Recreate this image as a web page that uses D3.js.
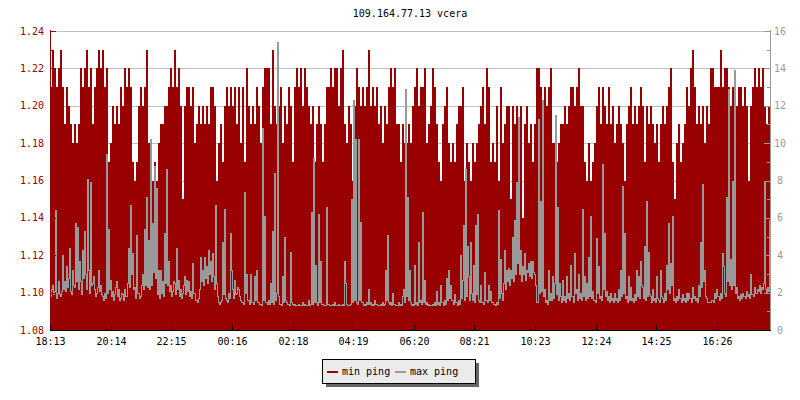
<!DOCTYPE html>
<html><head><meta charset="utf-8">
<script src="https://cdn.jsdelivr.net/npm/d3@7"></script>
<style>
html,body{margin:0;padding:0;background:#fff;}
svg{display:block;font-family:"DejaVu Sans Mono",monospace;font-size:10px;}
</style></head>
<body><svg id="c" width="800" height="400"></svg>
<script>
const title = "109.164.77.13 vcera";
const seriesNames = ["min ping", "max ping"];
const xTickLabels = ["18:13","20:14","22:15","00:16","02:18","04:19","06:20","08:21","10:23","12:24","14:25","16:26"];
const leftTicks = [1.08,1.10,1.12,1.14,1.16,1.18,1.20,1.22,1.24];
const rightTicks = [0,2,4,6,8,10,12,14,16];
const minStepMinutes = 4;
const maxStepMinutes = 2;

const minPing = [
1.21,1.23,1.22,1.21,1.22,1.23,1.21,1.19,1.21,1.20,
1.19,1.18,1.19,1.18,1.19,1.22,1.21,
1.22,1.23,1.21,1.22,1.19,1.21,1.22,1.23,1.22,1.23,1.21,1.22,
1.17,1.18,
1.20,1.19,1.20,1.19,1.21,1.20,1.22,1.21,1.22,1.21,
1.17,1.16,1.17,
1.20,1.21,1.20,1.21,1.23,
1.18,1.18,1.16,1.17,1.16,1.18,
1.19,1.19,1.20,
1.20,1.21,1.22,1.21,
1.23,
1.21,1.22,1.20,1.15,
1.20,1.21,1.21,1.20,1.21,1.18,
1.19,1.20,1.19,1.20,1.19,1.20,1.19,1.21,1.21,1.20,1.16,
1.18,1.19,1.17,1.20,1.21,1.20,
1.21,1.20,1.21,1.19,1.21,1.18,1.21,1.17,
1.22,1.20,1.19,1.20,1.19,1.21,1.20,1.18,
1.21,1.22,1.22,1.22,1.19,1.23,
1.20,1.19,1.20,1.21,1.18,1.20,1.19,1.21,1.20,1.17,
1.21,1.22,1.21,1.22,1.20,1.22,1.21,1.20,
1.19,1.20,1.17,1.19,1.20,1.19,1.17,1.19,
1.21,1.21,1.22,1.21,1.22,1.22,1.20,1.22,1.23,
1.19,1.18,1.20,1.19,1.16,
1.20,1.22,1.21,1.20,1.21,1.20,1.21,1.23,
1.20,1.21,1.20,1.21,1.19,1.20,1.18,1.20,1.19,1.21,1.22,1.21,1.22,
1.19,1.19,1.17,1.19,1.18,1.18,1.19,
1.18,1.20,1.21,
1.22,1.20,1.21,1.21,1.22,
1.18,1.19,
1.20,1.22,1.21,
1.19,1.17,1.16,
1.19,1.20,1.21,
1.18,1.17,1.18,1.17,
1.19,1.20,1.20,1.21,
1.16,1.18,1.17,1.16,1.18,1.17,1.18,
1.19,1.20,1.21,1.19,1.22,1.21,
1.17,1.18,1.17,1.20,1.16,1.21,1.18,1.19,1.20,1.20,
1.15,1.20,1.19,1.20,1.19,1.20,1.14,
1.19,1.20,1.18,1.19,1.17,
1.19,1.22,1.22,1.21,1.19,1.21,1.20,1.21,1.22,
1.18,1.18,1.17,
1.18,1.19,1.19,1.20,1.19,1.20,1.21,1.21,1.20,1.21,1.22,1.20,1.20,
1.17,1.16,1.18,
1.16,1.17,1.18,
1.20,1.21,1.19,1.21,1.20,1.19,1.21,
1.19,1.20,1.18,1.19,1.20,1.19,1.18,1.16,
1.19,1.20,1.21,1.19,1.20,1.19,1.20,1.21,1.20,
1.17,1.20,1.19,1.20,1.19,1.18,1.19,1.17,1.19,1.20,1.19,
1.20,1.21,1.22,
1.17,1.15,1.18,1.19,1.17,1.18,1.19,
1.21,1.20,1.22,1.23,1.21,
1.19,1.20,1.19,1.20,1.18,1.20,1.19,
1.22,1.22,1.21,1.21,1.21,1.23,1.21,1.22,1.22,1.21,
1.20,1.21,1.20,1.20,1.21,1.21,1.20,1.21,1.20,1.16,1.20,1.21,
1.22,1.21,1.22,1.21,1.22,
1.20,1.19,1.20
];

const maxPing = [
1.8,2.2,2.4,1.9,2.1,6.4,1.7,2.0,2.6,1.9,1.8,2.1,4.0,2.2,2.6,2.1,3.4,2.3,2.8,4.4,
2.1,1.9,3.2,2.4,2.3,5.7,2.6,5.5,2.2,3.7,2.6,1.9,4.3,2.8,5.3,3.0,2.2,8.1,3.2,2.0,
7.9,2.4,2.5,2.9,2.2,1.8,2.0,2.3,3.2,2.1,2.4,1.9,1.8,1.6,2.0,1.7,9.4,2.0,5.4,2.2,
2.7,1.8,2.1,1.6,1.9,2.3,2.6,1.8,2.2,1.6,1.7,2.0,1.9,1.6,2.2,1.8,1.8,2.5,4.4,2.3,
6.7,3.0,4.1,2.2,2.3,1.7,5.1,2.0,2.0,1.7,1.8,2.4,3.0,2.2,5.4,2.4,7.1,2.3,4.8,2.2,
10.2,2.4,5.7,3.1,8.8,2.8,7.6,1.9,3.2,1.7,3.2,2.0,2.6,1.8,5.2,2.5,8.6,2.4,3.7,2.1,
2.4,1.8,2.1,2.6,2.5,1.9,4.4,2.2,2.7,1.8,2.2,1.7,2.0,2.4,2.9,1.9,2.7,2.1,2.6,1.8,
2.1,1.7,3.6,2.0,2.0,1.6,1.6,1.5,1.7,2.2,3.9,2.6,3.2,2.4,3.9,2.8,3.4,2.5,4.3,3.0,
3.7,2.6,4.1,2.9,2.2,6.7,2.5,1.8,1.5,1.4,1.5,1.6,4.7,1.9,6.5,1.7,1.6,1.5,2.0,1.7,
5.2,3.2,2.2,1.7,2.7,1.9,2.0,2.3,2.2,1.8,1.6,1.5,1.5,1.4,7.4,2.0,3.0,1.6,1.6,1.4,
3.0,1.5,1.5,1.4,2.9,1.6,3.2,1.5,1.5,1.4,1.4,1.35,10.8,1.6,6.1,1.5,1.5,1.4,1.6,1.4,
2.5,1.5,5.3,1.4,8.4,1.6,2.0,15.4,1.8,1.4,1.4,1.35,2.9,1.5,5.0,1.6,1.5,1.4,1.4,1.35,
4.2,1.5,1.4,1.35,1.4,1.35,1.35,1.35,1.4,1.35,1.35,1.35,1.5,1.35,1.4,1.35,1.35,1.35,1.6,1.35,
1.4,6.3,1.4,9.2,1.5,3.5,1.5,1.35,6.2,1.5,3.7,1.4,1.4,1.35,1.35,1.35,6.6,1.4,1.4,1.35,
1.35,1.35,1.4,1.35,1.5,1.35,1.35,1.35,1.4,1.35,1.35,1.35,1.4,1.35,3.7,2.5,1.4,1.35,1.35,1.35,
1.4,7.0,1.5,12.3,1.6,10.2,1.5,1.4,10.2,1.6,5.8,1.5,1.5,1.35,1.4,1.35,1.5,1.4,2.2,1.4,
1.5,1.35,1.4,1.35,1.6,1.4,1.4,1.35,1.35,1.35,1.4,1.35,1.5,1.35,1.4,3.2,1.6,5.1,1.5,1.4,
1.5,1.35,2.0,1.4,1.4,1.35,1.35,1.35,1.5,1.35,1.4,1.35,1.8,2.2,1.5,12.9,1.8,7.1,1.6,3.2,
1.5,1.35,1.4,1.35,3.5,1.4,1.5,1.35,4.7,1.5,1.6,1.4,6.3,1.5,2.7,1.4,1.5,1.35,1.4,1.35,
1.35,1.35,1.4,1.35,1.5,1.35,2.1,1.4,1.5,1.35,2.4,1.5,1.5,1.35,1.6,1.4,2.8,1.6,3.2,1.7,
2.4,1.6,1.6,1.4,1.9,1.5,1.5,1.35,1.6,1.4,4.0,1.7,2.7,5.6,1.6,8.6,1.8,4.5,2.9,1.6,
4.7,2.0,1.6,3.5,1.5,5.6,1.9,6.2,1.6,1.5,2.4,1.5,1.5,1.4,3.1,1.6,1.6,1.5,2.4,1.6,
2.1,1.5,1.5,1.4,1.4,1.35,1.5,1.4,6.4,1.7,3.8,2.0,1.6,2.5,4.3,2.2,3.2,2.6,3.3,2.4,
3.2,2.8,5.0,2.6,5.9,3.0,7.9,3.6,11.4,3.0,4.3,2.6,3.4,3.0,4.1,2.7,3.2,3.1,3.6,2.9,
3.7,2.8,3.7,3.1,3.0,2.4,1.5,1.5,11.3,2.0,6.9,2.1,12.3,1.8,2.2,1.5,1.6,1.4,3.2,1.6,
2.0,1.6,2.9,1.7,2.5,11.5,1.9,6.6,1.6,2.5,1.8,1.5,2.7,1.6,1.8,1.5,2.9,1.7,2.0,1.6,
3.5,1.8,1.8,1.5,4.1,2.0,2.2,1.6,3.0,1.7,2.0,1.6,6.5,1.8,2.9,1.6,2.5,1.7,3.9,1.8,
6.1,1.7,2.1,1.6,1.6,1.5,4.9,2.0,3.4,1.7,1.8,1.6,8.9,2.2,5.2,1.8,2.1,1.6,1.8,1.5,
2.0,1.6,1.7,1.5,2.0,1.6,1.7,1.5,2.2,1.6,3.2,1.8,7.7,2.0,5.2,1.7,1.8,1.5,2.9,1.6,
2.3,1.6,1.7,1.5,1.9,1.6,3.2,1.8,2.9,1.7,3.7,2.4,2.3,1.7,4.5,1.6,6.9,1.8,4.2,1.9,
1.8,1.5,2.2,1.6,1.7,1.5,2.9,1.7,1.6,1.5,3.2,1.8,1.7,1.5,2.0,1.6,3.5,2.2,5.7,2.0,
3.6,2.4,6.1,1.6,1.7,1.5,1.8,1.6,2.2,1.7,1.7,1.5,1.9,1.6,1.7,1.5,2.0,1.6,2.0,1.7,
1.7,1.5,2.3,1.7,1.8,1.6,1.7,1.5,2.4,1.8,4.7,2.3,7.8,2.6,3.2,1.8,1.7,1.5,1.5,1.5,
1.5,1.6,1.6,1.5,2.0,1.7,2.2,1.8,1.8,1.6,2.0,1.7,4.1,3.4,2.0,1.8,7.1,2.6,12.9,2.4,
3.8,2.2,8.0,2.4,13.9,2.0,2.3,1.7,1.8,1.6,1.9,1.7,2.0,1.8,1.8,1.7,2.1,1.8,1.9,1.7,
3.0,1.9,1.9,1.8,2.3,2.0,2.0,2.2,2.1,2.4,2.0,2.3,2.2,2.5,8.0,2.2,2.0,2.3,2.1,5.9
];

const L = 50, R = 770, T = 31, B = 330;
const red = "#990000", grey = "#999999";
const svg = d3.select("#c");

const t0 = new Date(2020, 0, 1, 18, 13);
const t1 = new Date(t0.getTime() + 1440 * 60000);
const x = d3.scaleTime().domain([t0, t1]).range([L, R]);
const yL = d3.scaleLinear().domain([1.08, 1.24]).range([B, T]);
const yR = d3.scaleLinear().domain([0, 16]).range([B, T]);

const toSeries = (arr, step) => {
  const s = arr.map((v, i) => ({t: new Date(t0.getTime() + i * step * 60000), v}));
  s.push({t: t1, v: arr[arr.length - 1]});
  return s;
};
const minData = toSeries(minPing, minStepMinutes);
const maxData = toSeries(maxPing, maxStepMinutes);

// title
svg.append("text").attr("x", (L + R) / 2).attr("y", 17).attr("text-anchor", "middle")
  .attr("fill", "#000").text(title);

// grid
const grid = svg.append("g").attr("shape-rendering", "crispEdges");
leftTicks.forEach(v => {
  const yy = Math.round(yL(v)) + 0.5;
  grid.append("line").attr("x1", L).attr("x2", R).attr("y1", yy).attr("y2", yy)
    .attr("stroke", "#c0c0c0");
});

// min ping area
const area = d3.area().curve(d3.curveStepAfter)
  .x(d => Math.round(x(d.t))).y0(B).y1(d => Math.round(yL(d.v)));
svg.append("path").datum(minData).attr("d", area).attr("fill", red)
  .attr("shape-rendering", "crispEdges");

// max ping line
const line = d3.line().curve(d3.curveStepAfter)
  .x(d => Math.round(x(d.t)) + 0.5).y(d => Math.round(yR(d.v)) + 0.5);
svg.append("path").datum(maxData).attr("d", line).attr("fill", "none")
  .attr("stroke", grey).attr("stroke-width", 1).attr("shape-rendering", "crispEdges");

// left axis (red)
const gl = svg.append("g").attr("shape-rendering", "crispEdges");
gl.append("line").attr("x1", L + 0.5).attr("x2", L + 0.5).attr("y1", T - 1).attr("y2", B)
  .attr("stroke", red);
d3.range(0, 17).forEach(k => {
  const yy = Math.round(yL(1.08 + k * 0.01)) + 0.5;
  gl.append("line").attr("x1", L).attr("x2", L + (k % 2 === 0 ? 6 : 3))
    .attr("y1", yy).attr("y2", yy).attr("stroke", red);
});
leftTicks.forEach(v => {
  gl.append("text").attr("x", 44).attr("y", yL(v)).attr("dy", "0.35em")
    .attr("text-anchor", "end").attr("fill", red).text(v.toFixed(2));
});

// right axis (grey)
const gr = svg.append("g").attr("shape-rendering", "crispEdges");
gr.append("line").attr("x1", R + 0.5).attr("x2", R + 0.5).attr("y1", T - 1).attr("y2", B)
  .attr("stroke", grey);
d3.range(0, 17).forEach(k => {
  const yy = Math.round(yR(k)) + 0.5;
  gr.append("line").attr("x1", R - (k % 2 === 0 ? 6 : 3)).attr("x2", R + 1)
    .attr("y1", yy).attr("y2", yy).attr("stroke", grey);
});
rightTicks.forEach(v => {
  gr.append("text").attr("x", 780).attr("y", yR(v)).attr("dy", "0.35em")
    .attr("text-anchor", "middle").attr("fill", grey).text(v);
});

// bottom axis
const gb = svg.append("g").attr("shape-rendering", "crispEdges");
gb.append("line").attr("x1", L).attr("x2", R + 1).attr("y1", B + 0.5).attr("y2", B + 0.5)
  .attr("stroke", "#000");
xTickLabels.forEach(lbl => {
  const [hh, mm] = lbl.split(":").map(Number);
  let d = new Date(2020, 0, 1, hh, mm);
  if (d < t0) d = new Date(d.getTime() + 86400000);
  const xx = Math.round(x(d)) + 0.5;
  gb.append("line").attr("x1", xx).attr("x2", xx).attr("y1", B - 5).attr("y2", B + 1)
    .attr("stroke", "#000");
  gb.append("text").attr("x", xx).attr("y", 344.5).attr("text-anchor", "middle")
    .attr("fill", "#000").text(lbl);
});

// legend
const lg = svg.append("g").attr("shape-rendering", "crispEdges");
lg.append("rect").attr("x", 326).attr("y", 363).attr("width", 153).attr("height", 24).attr("fill", "#666");
lg.append("rect").attr("x", 322.5).attr("y", 359.5).attr("width", 153).attr("height", 24)
  .attr("fill", "#ebebeb").attr("stroke", "#000");
const sw = [{c: red, x: 327, tx: 342}, {c: grey, x: 395, tx: 410}];
seriesNames.forEach((n, i) => {
  lg.append("rect").attr("x", sw[i].x).attr("y", 371).attr("width", 11).attr("height", 2).attr("fill", sw[i].c);
  lg.append("text").attr("x", sw[i].tx).attr("y", 375).attr("fill", "#000").text(n);
});
</script></body></html>
